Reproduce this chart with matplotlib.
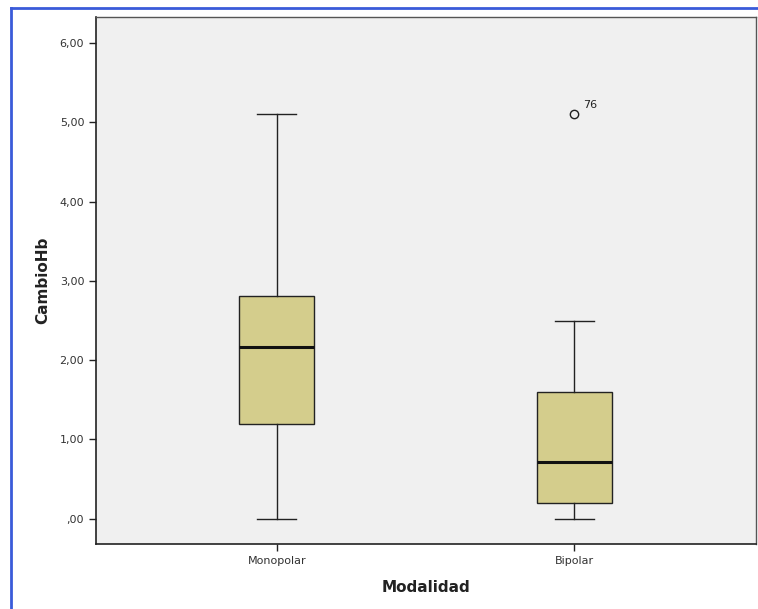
import matplotlib
matplotlib.use("Agg")
import matplotlib.pyplot as plt
from matplotlib.lines import Line2D

categories = ["Monopolar", "Bipolar"]
q1 = [1.20, 0.20]
medians = [2.16, 0.71]
q3 = [2.81, 1.60]
whislo = [0.00, 0.00]
whishi = [5.10, 2.50]
outliers = [[], [5.10]]
outlier_labels = [[], ["76"]]
yticks = [0, 1, 2, 3, 4, 5, 6]
ytick_labels = [",00", "1,00", "2,00", "3,00", "4,00", "5,00", "6,00"]

fig = plt.figure(figsize=(7.58, 6.09), dpi=100)
fig.patch.set_facecolor("white")

# outer blue frame (left and top)
fig.add_artist(Line2D([11/758, 11/758], [0, 1 - 8/609], transform=fig.transFigure, color="#3a5bd9", lw=2))
fig.add_artist(Line2D([11/758, 1], [1 - 8/609, 1 - 8/609], transform=fig.transFigure, color="#3a5bd9", lw=2))

ax = fig.add_axes([96/758, 1 - 544/609, 660/758, (544 - 17)/609])
ax.set_facecolor("#f0f0f0")

stats = []
for i, c in enumerate(categories):
    stats.append(dict(label=c, q1=q1[i], med=medians[i], q3=q3[i],
                      whislo=whislo[i], whishi=whishi[i], fliers=outliers[i]))

positions = [1, 2]
ax.bxp(stats, positions=positions, widths=0.25, patch_artist=True, showfliers=True,
       boxprops=dict(facecolor="#d4cd8c", edgecolor="#222222", linewidth=1.0),
       medianprops=dict(color="#111111", linewidth=2.2),
       whiskerprops=dict(color="#222222", linewidth=1.0),
       capprops=dict(color="#222222", linewidth=1.0),
       capwidths=0.13,
       flierprops=dict(marker="o", markersize=6, markerfacecolor="none",
                       markeredgecolor="#222222", markeredgewidth=1.0))

for i, pos in enumerate(positions):
    for v, lab in zip(outliers[i], outlier_labels[i]):
        ax.annotate(lab, (pos, v), xytext=(6, 5), textcoords="offset points",
                    fontsize=8, color="#222222")

ax.set_xlim(0.393, 2.61)
ax.set_ylim(-0.32, 6.33)
ax.set_yticks(yticks)
ax.set_yticklabels(ytick_labels)
ax.set_xticks(positions)
ax.set_xticklabels(categories)
ax.tick_params(axis="both", labelsize=8, length=5, color="#222222", labelcolor="#333333", width=1)

for s in ["left", "bottom"]:
    ax.spines[s].set_color("#222222")
    ax.spines[s].set_linewidth(1.2)
for s in ["top", "right"]:
    ax.spines[s].set_color("#555555")
    ax.spines[s].set_linewidth(1.0)

ax.set_ylabel("CambioHb", fontsize=11, fontweight="bold", color="#222222", labelpad=7)
ax.set_xlabel("Modalidad", fontsize=11, fontweight="bold", color="#222222", labelpad=10)

fig.savefig("out.png", dpi=100)
